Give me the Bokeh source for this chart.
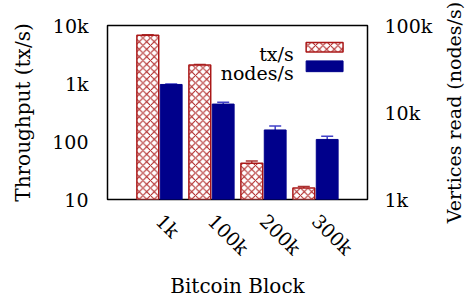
import math
import numpy as np
from bokeh.plotting import figure
from bokeh.layouts import row
from bokeh.models import (Range1d, LogAxis, FixedTicker, Whisker, TeeHead,
                          ColumnDataSource, BoxAnnotation, Label, Title)
from bokeh.embed import file_html
from bokeh.resources import INLINE

# ---- data ----
blocks = ["1k", "100k", "200k", "300k"]
tx_per_s = [6800, 2090, 42, 15.8]
tx_err = [120, 40, 4, 1]
nodes_per_s = [21000, 12500, 6300, 4900]
nodes_err = [300, 600, 700, 450]
left_ticks = [10, 100, 1000, 10000]
left_tick_labels = ["10", "100", "1k", "10k"]
right_ticks = [1000, 10000, 100000]
right_tick_labels = ["1k", "10k", "100k"]
leg_labels = ["tx/s", "nodes/s"]

FONT = "DejaVu Serif"
RED = "#aa1818"
BLUE = "#00008b"

grp = np.arange(1, len(blocks) + 1)
off = 0.225
bw = 0.42

tx_src = ColumnDataSource(dict(
    x=grp - off, top=tx_per_s,
    upper=np.array(tx_per_s) + np.array(tx_err),
    lower=np.array(tx_per_s) - np.array(tx_err)))
nd_src = ColumnDataSource(dict(
    x=grp + off, top=nodes_per_s,
    upper=np.array(nodes_per_s) + np.array(nodes_err),
    lower=np.array(nodes_per_s) - np.array(nodes_err)))

MAIN_W, SIDE_W, H = 436, 30, 300

p = figure(width=MAIN_W, height=H, output_backend="svg", toolbar_location=None,
           x_range=Range1d(0, len(blocks) + 1), y_range=Range1d(10, 10000),
           y_axis_type="log", min_border_left=107, min_border_right=69,
           min_border_top=25, min_border_bottom=93)
p.extra_y_ranges = {"right": Range1d(1000, 100000)}
p.grid.visible = False
p.outline_line_color = "black"
p.outline_line_width = 1.5
p.background_fill_color = "white"
p.border_fill_color = "white"

p.vbar(x="x", top="top", bottom=10, width=bw, source=tx_src,
       fill_color="white", line_color=RED, line_width=1.5,
       hatch_pattern="diagonal_cross", hatch_color=RED, hatch_scale=7.5,
       hatch_weight=1)
p.vbar(x="x", top="top", bottom=1000, width=bw, source=nd_src,
       fill_color=BLUE, line_color=BLUE, y_range_name="right")

p.add_layout(Whisker(base="x", upper="upper", lower="lower", source=tx_src,
                     line_color="#a83232", line_width=1.5,
                     upper_head=TeeHead(size=12, line_color="#a83232", line_width=1.5),
                     lower_head=TeeHead(size=12, line_color="#a83232", line_width=1.5)))
p.add_layout(Whisker(base="x", upper="upper", lower="lower", source=nd_src,
                     y_range_name="right", line_color="#4040c8", line_width=1.5,
                     upper_head=TeeHead(size=12, line_color="#4040c8", line_width=1.5),
                     lower_head=TeeHead(size=12, line_color="#4040c8", line_width=1.5)))

# axes
xa = p.xaxis[0]
xa.ticker = FixedTicker(ticks=list(grp))
xa.major_label_overrides = {int(g): b for g, b in zip(grp, blocks)}
xa.major_label_orientation = -math.pi / 4
xa.axis_label = "Bitcoin Block"

ya = p.yaxis[0]
ya.ticker = FixedTicker(ticks=left_ticks)
ya.major_label_overrides = dict(zip(left_ticks, left_tick_labels))
ya.axis_label = "Throughput (tx/s)"

ra = LogAxis(y_range_name="right")
ra.ticker = FixedTicker(ticks=right_ticks)
ra.major_label_overrides = dict(zip(right_ticks, right_tick_labels))
p.add_layout(ra, "right")

for ax in [xa, ya, ra]:
    ax.axis_line_color = None
    ax.major_tick_line_color = None
    ax.minor_tick_line_color = None
    ax.major_label_text_font = FONT
    ax.major_label_text_font_size = "19px"
    ax.major_label_text_color = "black"
    ax.axis_label_text_font = FONT
    ax.axis_label_text_font_size = "20px"
    ax.axis_label_text_font_style = "normal"
    ax.axis_label_text_color = "black"

xa.major_label_standoff = 12
xa.axis_label_standoff = 4
ya.major_label_standoff = 13
ya.axis_label_standoff = 14
ra.major_label_standoff = 11

# legend (drawn manually: label left of swatch)
p.add_layout(Label(x=3.58, y=3200, text=leg_labels[0], text_align="right",
                   text_baseline="alphabetic", text_font=FONT, text_font_size="19px",
                   text_color="black"))
p.add_layout(Label(x=3.58, y=1500, text=leg_labels[1], text_align="right",
                   text_baseline="alphabetic", text_font=FONT, text_font_size="19px",
                   text_color="black"))
p.add_layout(BoxAnnotation(left=3.82, right=4.53, bottom=3490, top=5100,
                           fill_color="white", fill_alpha=1, line_color=RED,
                           line_width=1.5, line_alpha=1, hatch_pattern="diagonal_cross",
                           hatch_color=RED, hatch_scale=7.5, hatch_weight=1))
p.add_layout(BoxAnnotation(left=3.82, right=4.53, bottom=1600, top=2455,
                           fill_color=BLUE, fill_alpha=1, line_color=BLUE,
                           line_alpha=1))

# right-hand axis title (reads bottom-to-top) in a narrow companion panel
side = figure(width=SIDE_W, height=H, output_backend="svg", toolbar_location=None,
              x_range=Range1d(0, 1), y_range=Range1d(0, 1),
              min_border_left=SIDE_W - 2, min_border_right=0, min_border_top=25,
              min_border_bottom=93)
side.axis.visible = False
side.grid.visible = False
side.outline_line_color = None
side.background_fill_color = "white"
side.border_fill_color = "white"
side.add_layout(Title(text="Vertices read (nodes/s)", align="center", standoff=0,
                      text_font=FONT, text_font_size="19px", text_font_style="normal",
                      text_color="black"), "left")

layout = row(p, side, spacing=0)
open("out.html", "w").write(file_html(layout, INLINE))
